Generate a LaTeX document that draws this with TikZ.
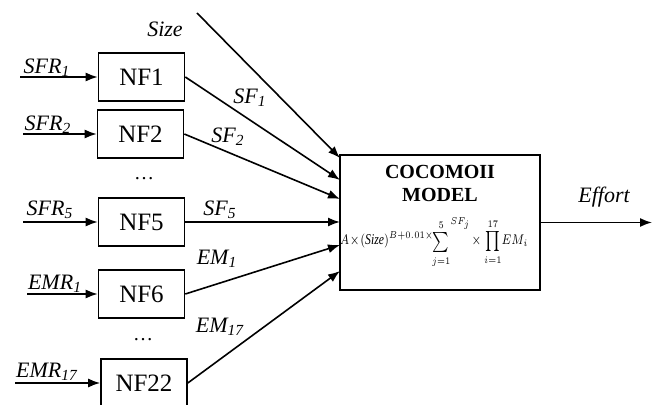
\documentclass[tikz,border=0pt]{standalone}
\usepackage{fontspec}
\setmainfont{Liberation Serif}
\usetikzlibrary{positioning,arrows.meta,calc}

\begin{document}
\begin{tikzpicture}[x=0.5pt,y=-0.5pt,
    nf/.style={rectangle,draw,thick,minimum width=43pt,minimum height=24pt,inner sep=0pt,font=\fontsize{12.5}{14}\selectfont},
    model/.style={rectangle,draw,thick,minimum width=100pt,minimum height=67.5pt},
    arrow/.style={-{Latex[length=6pt,width=4.5pt]},thick},
    lbl/.style={font=\fontsize{11}{13}\selectfont\itshape,inner sep=0pt}
]
    \useasboundingbox (0,0) rectangle (653,405);

    % neural-fuzzy blocks
    \node[nf] (nf1) at (141.5,77) {NF1};
    \node[nf] (nf2) at (140.5,134) {NF2};
    \node[nf] (nf5) at (141.5,222) {NF5};
    \node[nf] (nf6) at (141.5,294) {NF6};
    \node[nf] (nf22) at (144,383) {NF22};
    \node (dots1) at (144,179) {\dots};
    \node (dots2) at (143,340) {\dots};

    % inputs on the left
    \coordinate (sfr1) at (20,77);
    \coordinate (sfr2) at (23,134);
    \coordinate (sfr5) at (23,222);
    \coordinate (emr1) at (27,294);
    \coordinate (emr17) at (15,383);
    \draw[arrow] (sfr1) -- (nf1);
    \draw[arrow] (sfr2) -- (nf2);
    \draw[arrow] (sfr5) -- (nf5);
    \draw[arrow] (emr1) -- (nf6);
    \draw[arrow] (emr17) -- (nf22);
    \node[lbl] (lsfr1) at (47,68) {SFR\textsubscript{1}};
    \node[lbl] (lsfr2) at (48,125) {SFR\textsubscript{2}};
    \node[lbl] (lsfr5) at (50,210) {SFR\textsubscript{5}};
    \node[lbl] (lemr1) at (55,284) {EMR\textsubscript{1}};
    \node[lbl] (lemr17) at (47,372) {EMR\textsubscript{17}};

    % COCOMO II block
    \node[model] (cocomo) at (440,222.5) {};
    \node[font=\fontsize{10}{11.5}\selectfont\bfseries,align=center] (title) at (440,183) {COCOMOII\\MODEL};
    \node[font=\fontsize{7.5}{9}\selectfont,inner sep=0pt] (formula) at (434,243)
        {\scalebox{0.78}[1]{$A\!\times\!(\mathit{Size})^{B+0.01\times}\!{\scriptstyle\sum\limits_{j=1}^{5}}^{SF_j}\!\times\prod\limits_{i=1}^{17}\!EM_i$}};

    \coordinate (insize) at (340,158);
    \coordinate (in1) at (340,180);
    \coordinate (in2) at (340,199);
    \coordinate (in5) at (340,222);
    \coordinate (in6) at (340,245);
    \coordinate (in22) at (340,271);
    \coordinate (size) at (197,13);

    \draw[arrow] (size) -- (insize);
    \draw[arrow] (nf1.east) -- (in1);
    \draw[arrow] (nf2.east) -- (in2);
    \draw[arrow] (nf5.east) -- (in5);
    \draw[arrow] (nf6.east) -- (in6);
    \draw[arrow] (nf22.east) -- (in22);
    \node[lbl] (lsize) at (165,29) {Size};
    \node[lbl] (lsf1) at (250,98) {SF\textsubscript{1}};
    \node[lbl] (lsf2) at (228,137) {SF\textsubscript{2}};
    \node[lbl] (lsf5) at (220,210) {SF\textsubscript{5}};
    \node[lbl] (lem1) at (217,259) {EM\textsubscript{1}};
    \node[lbl] (lem17) at (220,327) {EM\textsubscript{17}};

    % output
    \coordinate (effort) at (652,222.5);
    \draw[arrow] (cocomo) -- (effort);
    \node[lbl] (leffort) at (604,197) {Effort};
\end{tikzpicture}
\end{document}
